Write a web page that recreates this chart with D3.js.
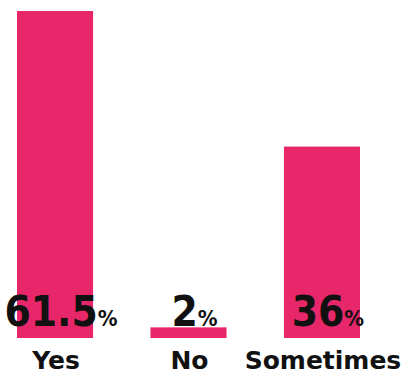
<!DOCTYPE html>
<html><head><meta charset="utf-8">
<script src="https://cdn.jsdelivr.net/npm/d3@7"></script>
<style>
html,body{margin:0;padding:0;background:#fff;}
svg{display:block;}
</style></head>
<body>
<script>
const categories = ["Yes", "No", "Sometimes"];
const values = [61.5, 2, 36];
const valueLabels = ["61.5", "2", "36"];

const W = 408, H = 385;
const svg = d3.select("body").append("svg").attr("width", W).attr("height", H);

const x = d3.scaleBand().domain(categories).range([17, 360]).paddingInner(0.43).paddingOuter(0);
const y = d3.scaleLinear().domain([0, 61.5]).range([338, 11]);

svg.selectAll("rect.bar").data(values).join("rect")
  .attr("class", "bar")
  .attr("x", (d, i) => x(categories[i]))
  .attr("width", x.bandwidth())
  .attr("y", d => y(d))
  .attr("height", d => y(0) - y(d))
  .attr("fill", "#e8266a");

const vl = svg.selectAll("text.val").data(values).join("text")
  .attr("class", "val")
  .attr("x", (d, i) => x(categories[i]) + x.bandwidth() / 2 + 6)
  .attr("y", 326)
  .attr("text-anchor", "middle")
  .attr("font-family", "'DejaVu Sans Condensed', 'DejaVu Sans', sans-serif")
  .attr("font-weight", "bold")
  .attr("font-size", 42)
  .attr("fill", "#111");
vl.append("tspan").text((d, i) => valueLabels[i]);
vl.append("tspan").attr("font-size", 22).text("%");

svg.selectAll("text.cat").data(categories).join("text")
  .attr("class", "cat")
  .attr("x", d => x(d) + x.bandwidth() / 2 + 1)
  .attr("y", 369)
  .attr("text-anchor", "middle")
  .attr("font-family", "'DejaVu Sans', sans-serif")
  .attr("font-weight", "bold")
  .attr("font-size", 25)
  .attr("fill", "#111")
  .text(d => d);
</script>
</body></html>
